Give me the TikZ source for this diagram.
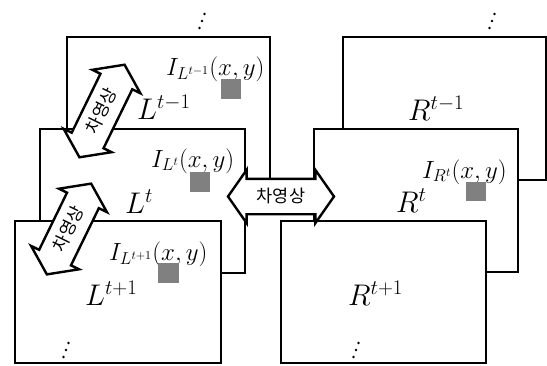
\documentclass[tikz,border=0pt]{standalone}
\usepackage{fontspec}
\newfontfamily\kofont{Noto Sans CJK KR}
\usetikzlibrary{shapes.arrows, positioning}

\tikzset{
  frame/.style={draw, line width=2pt, fill=white},
  pixel/.style={fill=black!50},
  diffarrow/.style={draw, fill=white, line width=2.4pt, shape=double arrow,
    double arrow head extend=9pt, double arrow tip angle=110,
    minimum width=51pt, minimum height=106pt, inner xsep=0pt, inner ysep=8.5pt,
    text height=14pt, text depth=2pt,
    font=\kofont\fontsize{17.5}{18}\selectfont},
  biglbl/.style={anchor=base west, inner sep=0pt, font=\fontsize{24}{28}\selectfont,
    scale=1.2, transform shape},
  smalllbl/.style={anchor=base west, inner sep=0pt, font=\fontsize{20.5}{24}\selectfont,
    scale=1.2, transform shape},
}

\begin{document}
\begin{tikzpicture}[x=1pt, y=-1pt]
    \useasboundingbox (0,0) rectangle (547,365);

    % 프레임 (뒤에서 앞으로)
    \draw[frame] (67,37) rectangle (270,180);
    \draw[frame] (343,37) rectangle (546,180);
    \draw[frame] (40,129) rectangle (245,273);
    \draw[frame] (314,129) rectangle (518,272);
    \draw[frame] (15,221) rectangle (221,363);
    \draw[frame] (281,221) rectangle (486,363);

    % 왼쪽 영상
    \node[biglbl] (Lm) at (137,119) {$L^{t-1}$};
    \node[smalllbl] (ILm) at (166,75) {$I_{L^{t-1}}(x,y)$};
    \fill[pixel] (221,79) rectangle (241,99);
    \node[smalllbl] (IL0) at (151,167) {$I_{L^{t}}(x,y)$};
    \fill[pixel] (190,172) rectangle (210,192);
    \node[biglbl] (L0) at (125,213) {$L^{t}$};
    \node[smalllbl] (ILp) at (109,260) {$I_{L^{t+1}}(x,y)$};
    \fill[pixel] (158,263) rectangle (179,283);
    \node[biglbl] (Lp) at (85,305) {$L^{t+1}$};

    % 오른쪽 영상
    \node[biglbl] (Rm) at (408,120) {$R^{t-1}$};
    \node[smalllbl] (IR0) at (422,178) {$I_{R^{t}}(x,y)$};
    \fill[pixel] (466,182) rectangle (486,201);
    \node[biglbl] (R0) at (396,212) {$R^{t}$};
    \node[biglbl] (Rp) at (348,305) {$R^{t+1}$};

    % 점선 생략 기호
    \foreach \x/\y in {202/21, 492/21, 66/350, 356/350}
        \fill (\x+2.5,\y-7) circle (1.4) (\x,\y) circle (1.4) (\x-2.5,\y+7) circle (1.4);

    % 차영상 화살표
    \node[diffarrow] (dh) at (281,196.5) {차영상};
    \node[diffarrow, rotate=64, minimum height=103pt] (d1) at (102,111) {차영상};
    \node[diffarrow, rotate=64, minimum height=101pt] (d2) at (69,229) {차영상};
\end{tikzpicture}
\end{document}
